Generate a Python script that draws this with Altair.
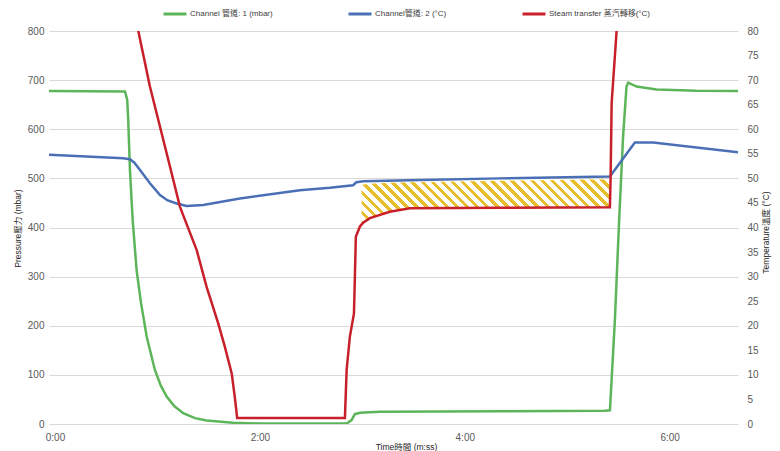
import altair as alt
import pandas as pd

# ---------------- data ----------------
S1 = "Channel 管道: 1 (mbar)"
S2 = "Channel管道: 2 (°C)"
S3 = "Steam transfer 蒸汽轉移(°C)"

# pressure channel (mbar), time in seconds
green_t = [-3.5, 41, 42.3, 42.9, 43.9, 45.5, 47.8, 50.4, 53.7, 58.5, 62, 65.4, 70, 75.1, 82, 88.8,
           104.2, 120, 170.8, 173.7, 175.6, 178.6, 190.3, 260, 322, 325, 327.9, 330.4, 332.7,
           334.7, 335.7, 340.6, 352.3, 375.7, 400]
green_v = [678, 677, 660, 619, 517, 415, 313, 246, 178, 110, 78, 56, 36, 22, 12, 7,
           2.6, 1, 1, 8, 20, 23, 25, 26, 27, 28, 212, 415, 585,
           687, 695, 687, 681, 678.5, 678]

# temperature channel (°C)
blue_t = [-3.5, 40, 43.9, 46.5, 49.8, 55.6, 61.5, 66, 71.3, 77.1, 86.8, 108.3, 143.4, 161, 174.6,
          176.5, 180.5, 207.8, 260.5, 325, 339.6, 350.3, 400]
blue_v = [54.8, 54.1, 53.9, 53.2, 51.7, 49.0, 46.6, 45.5, 44.9, 44.4, 44.6, 45.9, 47.6, 48.1, 48.6,
          49.2, 49.4, 49.6, 50.0, 50.4, 57.3, 57.3, 55.3]

# steam transfer (°C)
red_t = [48.2, 55.6, 65.4, 73.2, 83, 88.8, 95.6, 99.5, 103.5, 105.4, 106.7, 169.8, 170.8,
         172.7, 175.1, 176.2, 178.6, 180.5, 184.4, 196.1, 207.8, 260.5, 325, 325.4, 326, 329.1]
red_v = [81, 68.7, 55.1, 44.2, 35.4, 27.9, 20.5, 15.7, 10.3, 5.2, 1.2, 1.2, 11,
         17.8, 22.5, 38.1, 40.2, 41.0, 41.9, 43.2, 43.9, 44.0, 44.1, 50.3, 65.3, 81]

# hatched band between the two temperature curves
hatch_t = [179.6, 184.4, 196.1, 207.8, 260.5, 324.6]
hatch_top = [48.7, 48.9, 49.1, 49.2, 49.5, 49.8]
hatch_bottom = [40.6, 41.9, 43.2, 43.9, 44.0, 44.1]

x_ticks = [0, 120, 240, 360]
p_ticks = list(range(0, 801, 100))
t_ticks = list(range(0, 81, 5))

# ---------------- style ----------------
FONT = "Liberation Sans, Noto Sans CJK TC, sans-serif"
GREEN, BLUE, RED, GOLD = "#5DB55A", "#4A6FB5", "#C8202A", "#E8BE2E"
W, H = 689, 393
X_MIN, X_MAX = -3.5, 400

df_p = pd.DataFrame({"t": green_t, "v": green_v, "s": S1})
df_t = pd.concat([
    pd.DataFrame({"t": blue_t, "v": blue_v, "s": S2}),
    pd.DataFrame({"t": red_t, "v": red_v, "s": S3}),
])
df_h = pd.DataFrame({"t": hatch_t, "top": hatch_top, "bottom": hatch_bottom})

# diagonal hatch made with a hard-stop linear gradient (angle set from the band's pixel box)
w_px = (max(hatch_t) - min(hatch_t)) * W / (X_MAX - X_MIN)
h_px = (max(hatch_top) - min(hatch_bottom)) * H / 80
r = h_px / w_px
k = (1 + r) / (1 + r * r)
N = round(w_px / 10 * (1 + r))
CLEAR = "rgba(255,255,255,0)"
stops = []
for i in range(N):
    a, m, b = i / N, (i + 0.45) / N, (i + 1) / N
    stops += [alt.GradientStop(color=GOLD, offset=a), alt.GradientStop(color=GOLD, offset=m),
              alt.GradientStop(color=CLEAR, offset=m), alt.GradientStop(color=CLEAR, offset=b)]
hatch_fill = alt.LinearGradient(gradient="linear", stops=stops, x1=0, y1=1, x2=k, y2=1 - k * r)

x_enc = alt.X(
    "t:Q",
    scale=alt.Scale(domain=[X_MIN, X_MAX], nice=False, zero=False),
    axis=alt.Axis(values=x_ticks,
                  labelExpr="floor(datum.value/60) + ':' + (datum.value%60 < 10 ? '0' : '') + (datum.value%60)",
                  title="Time時間 (m:ss)", grid=False, domain=False, ticks=False,
                  labelPadding=8, titleX=357, titleY=22, titleBaseline="middle"),
)

color = alt.Color(
    "s:N",
    scale=alt.Scale(domain=[S1, S2, S3], range=[GREEN, BLUE, RED]),
    legend=alt.Legend(title=None, orient="none", direction="horizontal", legendX=113, legendY=-30,
                      symbolType="stroke", symbolStrokeWidth=3, symbolSize=529,
                      labelFontSize=8, labelColor="#404040", labelFont=FONT,
                      columnPadding=69, labelOffset=2),
)

p_scale = alt.Scale(domain=[0, 800], nice=False, zero=True)
t_scale = alt.Scale(domain=[0, 80], nice=False, zero=True)

t_axis = alt.Axis(orient="right", values=t_ticks, title="Temperature溫度 (°C)", grid=False,
                  domain=False, ticks=False, labelPadding=9,
                  titleAngle=270, titleX=27, titleY=201, titleAlign="center",
                  titleBaseline="middle")

green = alt.Chart(df_p).mark_line(strokeWidth=2.5, clip=True).encode(
    x=x_enc,
    y=alt.Y("v:Q", scale=p_scale,
            axis=alt.Axis(values=p_ticks, title="Pressure壓力 (mbar)", grid=True, gridColor="#D9D9D9",
                          domain=False, ticks=False, labelPadding=5,
                          titleAngle=270, titleX=-32, titleY=197, titleAlign="center",
                          titleBaseline="middle")),
    color=color,
)

hatch = alt.Chart(df_h).mark_area(fill=hatch_fill, clip=True).encode(
    x=x_enc,
    y=alt.Y("top:Q", scale=t_scale, axis=t_axis, title="Temperature溫度 (°C)"),
    y2="bottom:Q",
)

temps = alt.Chart(df_t).mark_line(strokeWidth=2.5, clip=True).encode(
    x=x_enc,
    y=alt.Y("v:Q", scale=t_scale, axis=t_axis, title="Temperature溫度 (°C)"),
    color=color,
)

temp_layer = alt.layer(hatch, temps)

chart = alt.layer(green, temp_layer).resolve_scale(y="independent").properties(
    width=W, height=H,
    padding={"left": 41, "top": 23, "right": 34, "bottom": 27},
    autosize=alt.AutoSizeParams(type="none"),
    background="white",
).configure_view(stroke=None).configure_axis(
    labelFont=FONT, labelFontSize=10, labelColor="#595959",
    titleFont=FONT, titleFontSize=8.5, titleColor="#262626", titleFontWeight="normal",
)

chart.save("out.html", embed_options={"renderer": "svg", "actions": False})
